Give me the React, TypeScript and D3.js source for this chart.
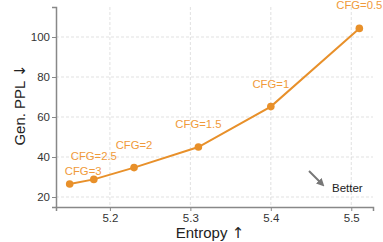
import React, { useEffect, useRef } from "react";
import * as d3 from "d3";

const cfgLabels = ["CFG=3", "CFG=2.5", "CFG=2", "CFG=1.5", "CFG=1", "CFG=0.5"];
const entropy = [5.15, 5.18, 5.23, 5.31, 5.4, 5.51];
const genPPL = [26.5, 28.8, 34.7, 45.0, 65.2, 104.3];
const xTicks = [5.2, 5.3, 5.4, 5.5];
const yTicks = [20, 40, 60, 80, 100];

const W = 383, H = 242;
const margin = { top: 7, right: 10, bottom: 35, left: 56 };
const font = "Liberation Sans, Arial, sans-serif";

export default function App() {
  const ref = useRef<SVGSVGElement>(null);

  useEffect(() => {
    const svg = d3.select(ref.current);
    svg.selectAll("*").remove();

    const w = W - margin.left - margin.right;
    const h = H - margin.top - margin.bottom;

    const x = d3.scaleLinear().domain([5.133, 5.527]).range([0, w]);
    const y = d3.scaleLinear().domain([15, 115]).range([h, 0]);

    const g = svg.append("g").attr("transform", `translate(${margin.left},${margin.top})`);

    // grid
    g.selectAll(".vgrid").data(xTicks).join("line")
      .attr("x1", d => x(d)).attr("x2", d => x(d)).attr("y1", 0).attr("y2", h)
      .attr("stroke", "#d9d9d9").attr("stroke-dasharray", "3,2").attr("stroke-width", 0.8);
    g.selectAll(".hgrid").data(yTicks).join("line")
      .attr("x1", 0).attr("x2", w).attr("y1", d => y(d)).attr("y2", d => y(d))
      .attr("stroke", "#d9d9d9").attr("stroke-dasharray", "3,2").attr("stroke-width", 0.8);

    // axes
    const xAxis = g.append("g").attr("transform", `translate(0,${h})`)
      .call(d3.axisBottom(x).tickValues(xTicks).tickFormat(d3.format(".1f")).tickSizeOuter(0).tickSize(4).tickPadding(3));
    const yAxis = g.append("g")
      .call(d3.axisLeft(y).tickValues(yTicks).tickSizeOuter(0).tickSize(4).tickPadding(2));
    [xAxis, yAxis].forEach(a => {
      a.select(".domain").attr("stroke", "#888").attr("stroke-width", 1.5);
      a.selectAll(".tick line").attr("stroke", "#888");
      a.selectAll(".tick text").attr("fill", "#333").style("font-size", "11.5px")
        .style("font-family", font);
    });

    // line + points
    const pts = entropy.map((e, i) => ({ e, p: genPPL[i], label: cfgLabels[i] }));
    const line = d3.line<any>().x(d => x(d.e)).y(d => y(d.p));
    g.append("path").datum(pts).attr("d", line)
      .attr("fill", "none").attr("stroke", "#E8902A").attr("stroke-width", 2);
    g.selectAll(".pt").data(pts).join("circle")
      .attr("cx", d => x(d.e)).attr("cy", d => y(d.p)).attr("r", 3.8).attr("fill", "#E8902A");

    g.selectAll(".lbl").data(pts).join("text")
      .attr("x", (d, i) => x(d.e) + (i === 0 ? 13.5 : 0))
      .attr("y", (d, i) => y(d.p) - (i === 0 ? 9 : 19))
      .attr("text-anchor", "middle")
      .attr("fill", "#F09A3A")
      .style("font-size", "11.3px")
      .style("font-family", font)
      .text(d => d.label);

    // Better arrow
    svg.append("defs").append("marker")
      .attr("id", "ah").attr("viewBox", "0 0 10 10").attr("refX", 4).attr("refY", 5)
      .attr("markerWidth", 4).attr("markerHeight", 4).attr("orient", "auto")
      .append("path").attr("d", "M0,0 L10,5 L0,10 z").attr("fill", "#777");
    svg.append("line").attr("x1", 309).attr("y1", 171).attr("x2", 321).attr("y2", 183)
      .attr("stroke", "#777").attr("stroke-width", 2).attr("marker-end", "url(#ah)");
    svg.append("text").attr("x", 332).attr("y", 192).attr("fill", "#222")
      .style("font-size", "11.5px").style("font-family", font)
      .text("Better");

    // axis titles
    const xt = svg.append("text").attr("x", 210).attr("y", 238)
      .attr("text-anchor", "middle").attr("fill", "#222")
      .style("font-size", "15px").style("font-family", font);
    xt.append("tspan").text("Entropy  ");
    xt.append("tspan").style("font-family", "DejaVu Sans").text("↑");

    const yt = svg.append("text").attr("transform", `translate(25,${105}) rotate(-90)`)
      .attr("text-anchor", "middle").attr("fill", "#222")
      .style("font-size", "15px").style("font-family", font);
    yt.append("tspan").text("Gen. PPL  ");
    yt.append("tspan").style("font-family", "DejaVu Sans").text("↓");
  }, []);

  return (
    <svg ref={ref} width={W} height={H}
      style={{ position: "absolute", left: 0, top: 0, background: "#fff" }} />
  );
}
